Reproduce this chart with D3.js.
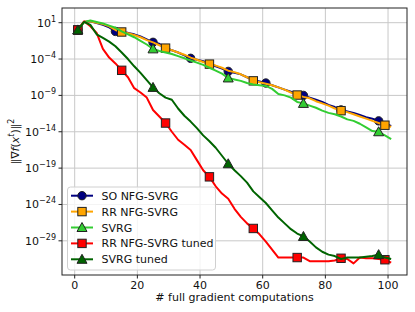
<!DOCTYPE html>
<html>
<head>
<meta charset="utf-8">
<script src="https://cdn.jsdelivr.net/npm/d3@7"></script>
<style>
  body { margin: 0; background: #fff; }
  text { font-family: "DejaVu Sans", sans-serif; }
</style>
</head>
<body>
<div id="svgcontainer"></div>
<script>
// # full gradient computations (every 2nd point)
var xs = [1,3,5,7,9,11,13,15,17,19,21,23,25,27,29,31,33,35,37,39,41,43,45,47,49,51,
  53,55,57,59,61,63,65,67,69,71,73,75,77,79,81,83,85,87,89,91,93,95,97,99,101];

// log10 of ||grad f(x^t)||^2
var soNfg = [0,1.1,1.2,0.95,0.7,0.35,-0.2,-0.3,-0.4,-0.6,-0.9,-1.3,-1.7,-1.9,-2.4,-2.8,-3.1,-3.5,-3.9,-4.1,
  -4.3,-4.7,-5.0,-5.3,-5.7,-5.9,-6.1,-6.5,-6.9,-7.1,-7.3,-7.6,-7.9,-8.2,-8.5,-8.8,-9.0,-9.3,-9.6,-9.9,
  -10.3,-10.6,-11.0,-11.2,-11.4,-11.7,-12.0,-12.2,-12.5,-12.9,-13.2];
var rrNfg = [0,1.1,1.2,1.0,0.8,0.5,0.0,-0.28,-0.45,-0.7,-1.0,-1.4,-1.7,-2.1,-2.5,-2.8,-3.1,-3.4,-3.8,-4.1,
  -4.4,-4.7,-4.9,-5.2,-5.6,-5.8,-6.1,-6.5,-7.0,-7.2,-7.4,-7.6,-7.9,-8.2,-8.6,-8.95,-9.2,-9.4,-9.8,-10.1,
  -10.4,-10.8,-11.1,-11.3,-11.6,-11.9,-12.2,-12.5,-12.8,-13.1,-13.3];
var svrg = [0,1.1,1.3,1.1,0.9,0.6,0.3,-0.2,-0.6,-1.0,-1.5,-2.0,-2.6,-2.9,-3.1,-3.3,-3.6,-3.9,-4.2,-4.5,
  -4.8,-5.2,-5.6,-6.0,-6.6,-6.8,-7.0,-7.3,-7.5,-7.6,-7.7,-8.1,-8.8,-9.0,-9.3,-9.9,-10.1,-10.4,-10.7,-11.1,
  -11.4,-11.6,-11.9,-12.3,-12.5,-12.9,-13.4,-13.9,-14.0,-14.5,-15.0];
var rrTuned = [0,1.2,0.5,-0.4,-2.6,-3.8,-4.6,-5.55,-6.5,-8.0,-8.6,-9.3,-11.0,-11.9,-12.8,-14.0,-15.1,-15.8,-16.5,-17.9,
  -19.3,-20.2,-21.5,-22.5,-23.2,-24.6,-25.7,-26.6,-27.3,-28.1,-29.1,-30.2,-31.3,-31.3,-31.3,-31.3,-31.3,-31.8,-31.8,-31.8,
  -31.8,-31.7,-31.4,-31.5,-32.1,-31.3,-31.4,-31.4,-31.5,-31.6,-32.0];
var svrgTuned = [0,1.1,0.7,-0.6,-1.1,-1.6,-2.25,-3.1,-4.0,-5.0,-5.9,-6.9,-7.9,-8.7,-9.3,-9.6,-10.8,-11.8,-12.6,-13.5,
  -14.5,-15.3,-16.2,-17.3,-18.4,-19.3,-20.1,-21.0,-22.2,-23.0,-23.8,-24.8,-25.8,-26.6,-27.4,-28.0,-28.4,-29.1,-29.9,-30.5,
  -30.9,-31.1,-31.5,-31.3,-31.3,-31.3,-31.2,-31.1,-30.9,-31.3,-31.5];

// where the markers sit
var every12 = [1,13,25,37,49,61,73,85,97];
var every14 = [1,15,29,43,57,71,85,99];
var every24 = [1,25,49,73,97];

var xTicks = [0,20,40,60,80,100];
var yTickExps = [1,-4,-9,-14,-19,-24,-29];

var width = 415, height = 312;
var pl = 62, pr = 407, pt = 8, pb = 275;

var series = [
  { name: "SO NFG-SVRG", vals: soNfg, marks: every12, color: "#000080", shape: "circle" },
  { name: "RR NFG-SVRG", vals: rrNfg, marks: every14, color: "#FFA500", shape: "square" },
  { name: "SVRG", vals: svrg, marks: every24, color: "#32CD32", shape: "triangle" },
  { name: "RR NFG-SVRG tuned", vals: rrTuned, marks: every14, color: "#FF0000", shape: "square" },
  { name: "SVRG tuned", vals: svrgTuned, marks: every24, color: "#006400", shape: "triangle" }
];

var x = d3.scaleLinear().domain([-4.05, 106.05]).range([pl, pr]);
var y = d3.scaleLog().domain([Math.pow(10, -33.7), Math.pow(10, 3.02)]).range([pb, pt]);

var svg = d3.select("#svgcontainer").append("svg")
  .attr("width", width)
  .attr("height", height);

// grid
svg.append("g").selectAll("line").data(xTicks).enter().append("line")
  .attr("x1", function(d){ return x(d); }).attr("x2", function(d){ return x(d); })
  .attr("y1", pt).attr("y2", pb)
  .style("stroke", "#c8c8c8").style("stroke-width", 1);
svg.append("g").selectAll("line").data(yTickExps).enter().append("line")
  .attr("x1", pl).attr("x2", pr)
  .attr("y1", function(d){ return y(Math.pow(10, d)); }).attr("y2", function(d){ return y(Math.pow(10, d)); })
  .style("stroke", "#c8c8c8").style("stroke-width", 1);

function drawMarker(g, shape, cx, cy, color){
  if(shape == "circle"){
    g.append("circle").attr("cx", cx).attr("cy", cy).attr("r", 4.2)
      .style("fill", color).style("stroke", "#222").style("stroke-width", 1);
  }else if(shape == "square"){
    g.append("rect").attr("x", cx-4.2).attr("y", cy-4.2).attr("width", 8.4).attr("height", 8.4)
      .style("fill", color).style("stroke", "#222").style("stroke-width", 1);
  }else{
    var s = 5;
    g.append("path")
      .attr("d", "M" + cx + "," + (cy-s) + "L" + (cx+s) + "," + (cy+s*0.8) + "L" + (cx-s) + "," + (cy+s*0.8) + "Z")
      .style("fill", color).style("stroke", "#222").style("stroke-width", 1);
  }
}

var plot = svg.append("g");
var line = d3.line()
  .x(function(d){ return x(d[0]); })
  .y(function(d){ return y(Math.pow(10, d[1])); });

series.forEach(function(s){
  var pts = xs.map(function(v, i){ return [v, s.vals[i]]; });
  var g = plot.append("g");
  g.append("path").datum(pts).attr("d", line)
    .style("fill", "none").style("stroke", s.color).style("stroke-width", 2)
    .style("stroke-linejoin", "round");
  s.marks.forEach(function(m){
    var i = xs.indexOf(m);
    drawMarker(g, s.shape, x(m), y(Math.pow(10, s.vals[i])), s.color);
  });
});

// spines
svg.append("rect").attr("x", pl).attr("y", pt)
  .attr("width", pr-pl).attr("height", pb-pt)
  .style("fill", "none").style("stroke", "#222").style("stroke-width", 1);

// x ticks
xTicks.forEach(function(t){
  svg.append("line").attr("x1", x(t)).attr("x2", x(t)).attr("y1", pb).attr("y2", pb+3.5)
    .style("stroke", "#222");
  svg.append("text").attr("x", x(t)).attr("y", pb+13.5)
    .attr("text-anchor", "middle").style("font-size", "11px").style("fill", "#111")
    .text(t);
});

// y ticks
yTickExps.forEach(function(e){
  var yy = y(Math.pow(10, e));
  svg.append("line").attr("x1", pl-3.5).attr("x2", pl).attr("y1", yy).attr("y2", yy)
    .style("stroke", "#222");
  var t = svg.append("text").attr("x", pl-6).attr("y", yy+4)
    .attr("text-anchor", "end").style("font-size", "11px").style("fill", "#111");
  t.append("tspan").text("10");
  t.append("tspan").attr("dy", -5).style("font-size", "8px")
    .text(String(e).replace("-", "\u2212"));
});

// axis labels
svg.append("text").attr("x", (pl+pr)/2).attr("y", 301)
  .attr("text-anchor", "middle").style("font-size", "11px").style("fill", "#111")
  .text("# full gradient computations");

var yl = svg.append("text")
  .attr("transform", "translate(19," + ((pt+pb)/2) + ") rotate(-90)")
  .attr("text-anchor", "middle").style("font-size", "11px").style("fill", "#111");
yl.append("tspan").text("\u2016\u2207");
yl.append("tspan").style("font-style", "italic").text("f");
yl.append("tspan").text("(");
yl.append("tspan").style("font-style", "italic").text("x");
yl.append("tspan").attr("dy", -5).style("font-size", "8px").style("font-style", "italic").text("t");
yl.append("tspan").attr("dy", 5).text(")\u2016");
yl.append("tspan").attr("dy", -5).style("font-size", "8px").text("2");

// legend
var lg = svg.append("g");
lg.append("rect").attr("x", 67.5).attr("y", 187).attr("width", 148).attr("height", 83)
  .attr("rx", 3).style("fill", "#fff").style("fill-opacity", 0.8)
  .style("stroke", "#d0d0d0").style("stroke-width", 1);
series.forEach(function(s, i){
  var ly = 195.7 + i*15.9;
  lg.append("line").attr("x1", 71).attr("x2", 93).attr("y1", ly).attr("y2", ly)
    .style("stroke", s.color).style("stroke-width", 2);
  drawMarker(lg, s.shape, 82, ly, s.color);
  lg.append("text").attr("x", 101.5).attr("y", ly+4)
    .style("font-size", "11px").style("fill", "#111").text(s.name);
});
</script>
</body>
</html>
